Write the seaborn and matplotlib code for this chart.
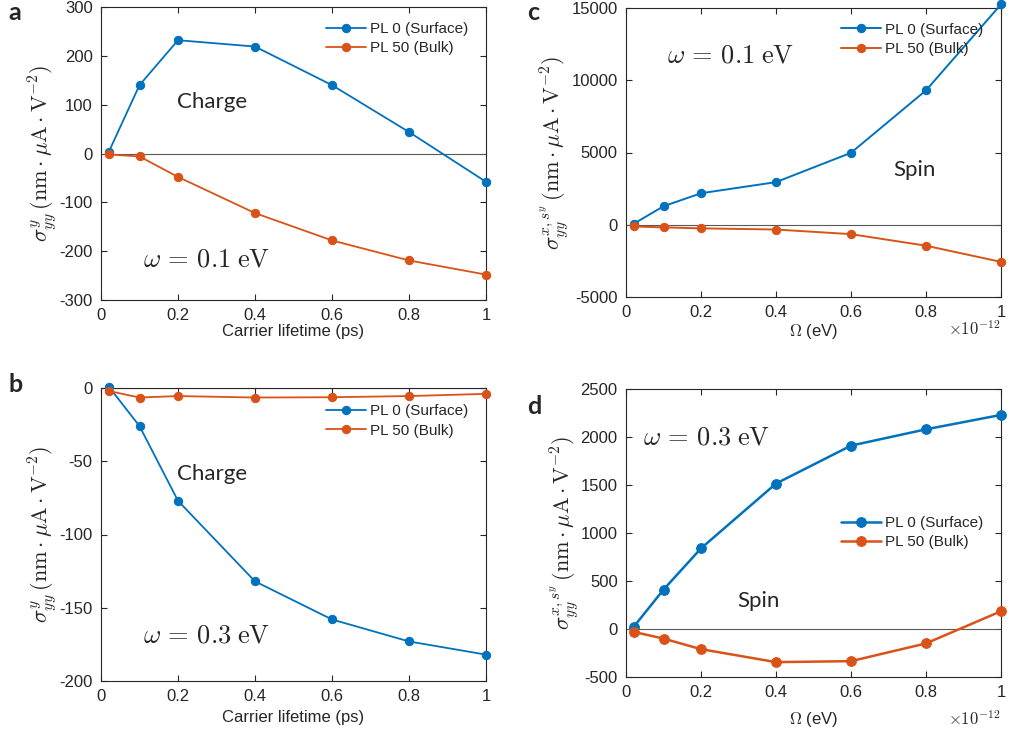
import numpy as np
import pandas as pd
import matplotlib
matplotlib.use("Agg")
import matplotlib.pyplot as plt
from matplotlib.ticker import ScalarFormatter, FuncFormatter, MultipleLocator, FixedLocator
import seaborn as sns

# ---------------- data ----------------
lifetime_ps = [0.02, 0.1, 0.2, 0.4, 0.6, 0.8, 1.0]
omega_eV = [0.02e-12, 0.1e-12, 0.2e-12, 0.4e-12, 0.6e-12, 0.8e-12, 1.0e-12]

a_surface = [3, 140, 232, 219, 140, 44, -58]
a_bulk = [-2, -6, -48, -122, -178, -219, -248]

b_surface = [1, -26, -77, -132, -158, -173, -182]
b_bulk = [-2, -6.5, -5.5, -6.5, -6.3, -5.5, -4]

c_surface = [60, 1280, 2180, 2950, 4980, 9300, 15250]
c_bulk = [-120, -180, -250, -330, -650, -1450, -2570]

d_surface = [20, 410, 840, 1515, 1910, 2080, 2230]
d_bulk = [-30, -100, -210, -345, -335, -150, 185]

series_labels = ["PL 0 (Surface)", "PL 50 (Bulk)"]
panel_letters = ["a", "b", "c", "d"]
x_ticks = [0, 0.2, 0.4, 0.6, 0.8, 1.0]
x_label_lifetime = "Carrier lifetime (ps)"
x_label_omega = r"$\Omega$ (eV)"
x_multiplier = r"$\times10^{-12}$"
y_label_charge = r"$\sigma^{y}_{yy}\,(\mathrm{nm}\cdot\mu\mathrm{A}\cdot\mathrm{V}^{-2})$"
y_label_spin = r"$\sigma^{x,s^{y}}_{yy}\,(\mathrm{nm}\cdot\mu\mathrm{A}\cdot\mathrm{V}^{-2})$"

# ---------------- style ----------------
sns.set_style("ticks")
plt.rcParams["font.family"] = ["Liberation Sans", "DejaVu Sans"]
plt.rcParams["mathtext.fontset"] = "cm"
plt.rcParams["axes.unicode_minus"] = False

BLUE = "#0072BD"
ORANGE = "#D95319"
AXC = "#262626"

W, H = 1013, 746
fig = plt.figure(figsize=(W / 100, H / 100), dpi=100)


def px_axes(left, top, right, bottom):
    return fig.add_axes([left / W, 1 - bottom / H, (right - left) / W, (bottom - top) / H])


ax_a = px_axes(101, 7, 486, 300)
ax_b = px_axes(101, 388, 486, 681)
ax_c = px_axes(626, 8, 1001, 297)
ax_d = px_axes(626, 389, 1001, 677)


def draw(ax, x, ys, lw, ms):
    for y, lab, col in zip(ys, series_labels, [BLUE, ORANGE]):
        df = pd.DataFrame({"x": x, "y": y})
        sns.lineplot(data=df, x="x", y="y", ax=ax, color=col, marker="o",
                     markersize=ms, markeredgecolor=col, linewidth=lw,
                     label=lab, clip_on=False, zorder=3)
    ax.axhline(0, color="0.35", lw=0.8, zorder=1)
    for s in ax.spines.values():
        s.set_visible(True)
        s.set_color(AXC)
        s.set_linewidth(0.8)
    ax.tick_params(direction="in", top=True, right=True, length=4, width=0.8,
                   color=AXC, labelsize=12, labelcolor="#262626", pad=6,
                   labelright=False, labeltop=False)
    ax.set_xlim(0, x[-1])


# panel a
draw(ax_a, lifetime_ps, [a_surface, a_bulk], 1.3, 6)
ax_a.set_ylim(-300, 300)
ax_a.yaxis.set_major_locator(MultipleLocator(100))
# panel b
draw(ax_b, lifetime_ps, [b_surface, b_bulk], 1.3, 6)
ax_b.set_ylim(-200, 0)
ax_b.yaxis.set_major_locator(MultipleLocator(50))
# panel c
draw(ax_c, omega_eV, [c_surface, c_bulk], 1.4, 6)
ax_c.set_ylim(-5000, 15000)
ax_c.yaxis.set_major_locator(MultipleLocator(5000))
# panel d
draw(ax_d, omega_eV, [d_surface, d_bulk], 1.8, 7)
ax_d.set_ylim(-500, 2500)
ax_d.yaxis.set_major_locator(MultipleLocator(500))

for ax, lp in ((ax_a, 0.5), (ax_b, 4)):
    ax.xaxis.set_major_locator(FixedLocator(x_ticks))
    ax.xaxis.set_major_formatter(FuncFormatter(lambda v, p: "%g" % round(v, 6)))
    ax.set_xlabel(x_label_lifetime, fontsize=12, color="#262626", labelpad=lp)
    ax.set_ylabel(y_label_charge, fontsize=16, color="#262626", labelpad=0)

for ax, lp, my in ((ax_c, 1.0, -0.108), (ax_d, 7, -0.145)):
    ax.xaxis.set_major_locator(FixedLocator([t * 1e-12 for t in x_ticks]))
    ax.xaxis.set_major_formatter(FuncFormatter(lambda v, p: "%g" % round(v / 1e-12, 6)))
    ax.text(1.0, my, x_multiplier, transform=ax.transAxes, ha="right", va="center",
            fontsize=12, color="#262626")
    ax.set_xlabel(x_label_omega, fontsize=12, color="#262626", labelpad=lp)
    ax.set_ylabel(y_label_spin, fontsize=16, color="#262626", labelpad=0)

for ax in (ax_a, ax_b, ax_c, ax_d):
    ax.yaxis.set_major_formatter(FuncFormatter(lambda v, p: "%g" % v))

# legends
leg_kw = dict(frameon=False, loc="upper right", fontsize=11, handlelength=2.6,
              borderaxespad=0, labelspacing=0.35, handletextpad=0.3)
ax_a.legend(bbox_to_anchor=(0.97, 0.97), **leg_kw)
ax_b.legend(bbox_to_anchor=(0.97, 0.965), **leg_kw)
ax_c.legend(bbox_to_anchor=(0.97, 0.97), **leg_kw)
ax_d.legend(bbox_to_anchor=(0.97, 0.58), **leg_kw)

# annotations
txt_font = ["Lato", "DejaVu Sans"]
om1 = r"$\omega\,=\,0.1\;\mathrm{eV}$"
om3 = r"$\omega\,=\,0.3\;\mathrm{eV}$"
ax_a.text(0.288, 0.676, "Charge", transform=ax_a.transAxes, ha="center", va="center",
          fontsize=16, family=txt_font)
ax_a.text(0.275, 0.137, om1, transform=ax_a.transAxes,
          ha="center", va="center", fontsize=19)
ax_b.text(0.288, 0.706, "Charge", transform=ax_b.transAxes, ha="center", va="center",
          fontsize=16, family=txt_font)
ax_b.text(0.275, 0.154, om3, transform=ax_b.transAxes,
          ha="center", va="center", fontsize=19)
ax_c.text(0.28, 0.837, om1, transform=ax_c.transAxes,
          ha="center", va="center", fontsize=19)
ax_c.text(0.77, 0.439, "Spin", transform=ax_c.transAxes, ha="center", va="center",
          fontsize=16, family=txt_font)
ax_d.text(0.216, 0.833, om3, transform=ax_d.transAxes,
          ha="center", va="center", fontsize=19)
ax_d.text(0.354, 0.264, "Spin", transform=ax_d.transAxes, ha="center", va="center",
          fontsize=16, family=txt_font)

# panel letters
for letter, (x, y) in zip(panel_letters, [(8, 12), (8, 384), (527, 12), (527, 407)]):
    fig.text(x / W, 1 - y / H, letter, fontsize=18, fontweight="bold",
             family=txt_font, ha="left", va="center")

fig.savefig("out.png", dpi=100)
